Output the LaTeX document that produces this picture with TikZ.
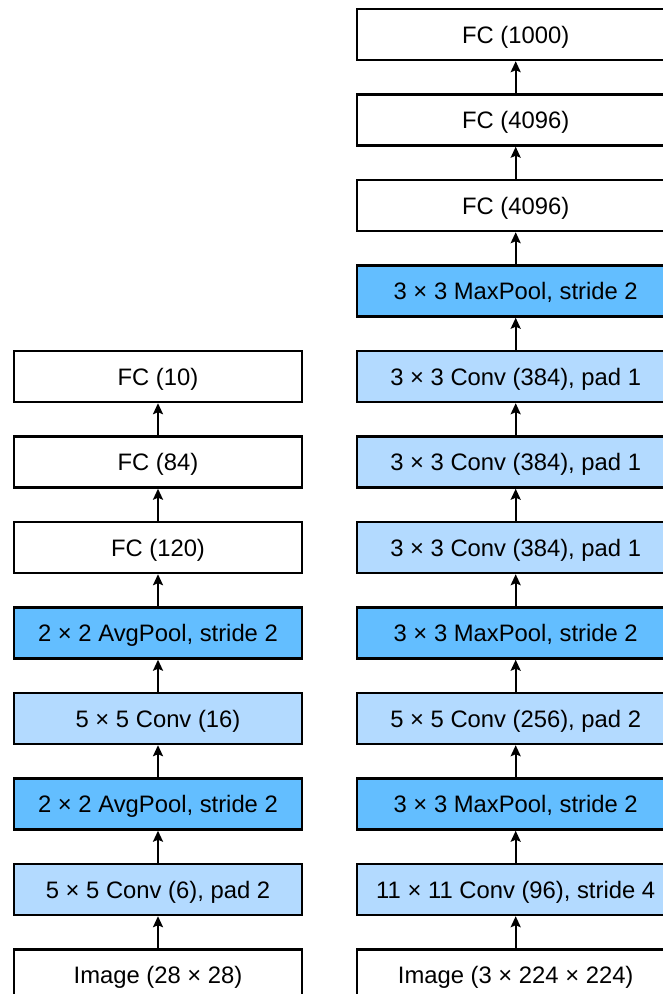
\documentclass[tikz,border=0pt]{standalone}
\usepackage{fontspec}
\setmainfont{Liberation Sans}
\usetikzlibrary{arrows.meta}
\definecolor{convblue}{HTML}{B3DAFF}
\definecolor{poolblue}{HTML}{63BEFF}
\begin{document}
\begin{tikzpicture}[x=1pt,y=1pt,
  layer/.style={draw=black, line width=2.4pt, minimum height=51pt, inner sep=0pt, text depth=0pt, font=\fontsize{23.8}{27}\selectfont},
  lbox/.style={layer, minimum width=288pt},
  rbox/.style={layer, minimum width=317pt},
  fc/.style={fill=white},
  conv/.style={fill=convblue},
  pool/.style={fill=poolblue},
  link/.style={line width=2pt, -{Stealth[length=11pt,width=10pt,inset=2pt]}}
]
\useasboundingbox (0,0) rectangle (663,-994);
% right column (AlexNet)
\node[rbox,fc]   (r0)  at (515.7,-34.5)  {FC (1000)};
\node[rbox,fc]   (r1)  at (515.7,-120)   {FC (4096)};
\node[rbox,fc]   (r2)  at (515.7,-205.5) {FC (4096)};
\node[rbox,pool] (r3)  at (515.7,-291)   {3 × 3 MaxPool, stride 2};
\node[rbox,conv] (r4)  at (515.7,-376.5) {3 × 3 Conv (384), pad 1};
\node[rbox,conv] (r5)  at (515.7,-462)   {3 × 3 Conv (384), pad 1};
\node[rbox,conv] (r6)  at (515.7,-547.5) {3 × 3 Conv (384), pad 1};
\node[rbox,pool] (r7)  at (515.7,-633)   {3 × 3 MaxPool, stride 2};
\node[rbox,conv] (r8)  at (515.7,-718.5) {5 × 5 Conv (256), pad 2};
\node[rbox,pool] (r9)  at (515.7,-804)   {3 × 3 MaxPool, stride 2};
\node[rbox,conv] (r10) at (515.7,-889.5) {11 × 11 Conv (96), stride 4};
\node[rbox,fc]   (r11) at (515.7,-975)   {Image (3 × 224 × 224)};
% left column (LeNet)
\node[lbox,fc]   (l4)  at (158,-376.5) {FC (10)};
\node[lbox,fc]   (l5)  at (158,-462)   {FC (84)};
\node[lbox,fc]   (l6)  at (158,-547.5) {FC (120)};
\node[lbox,pool] (l7)  at (158,-633)   {2 × 2 AvgPool, stride 2};
\node[lbox,conv] (l8)  at (158,-718.5) {5 × 5 Conv (16)};
\node[lbox,pool] (l9)  at (158,-804)   {2 × 2 AvgPool, stride 2};
\node[lbox,conv] (l10) at (158,-889.5) {5 × 5 Conv (6), pad 2};
\node[lbox,fc]   (l11) at (158,-975)   {Image (28 × 28)};
% connectors
\foreach \a/\b in {r11/r10,r10/r9,r9/r8,r8/r7,r7/r6,r6/r5,r5/r4,r4/r3,r3/r2,r2/r1,r1/r0,
                   l11/l10,l10/l9,l9/l8,l8/l7,l7/l6,l6/l5,l5/l4}
  \draw[link] (\a.north) -- (\b.south);
\end{tikzpicture}
\end{document}
